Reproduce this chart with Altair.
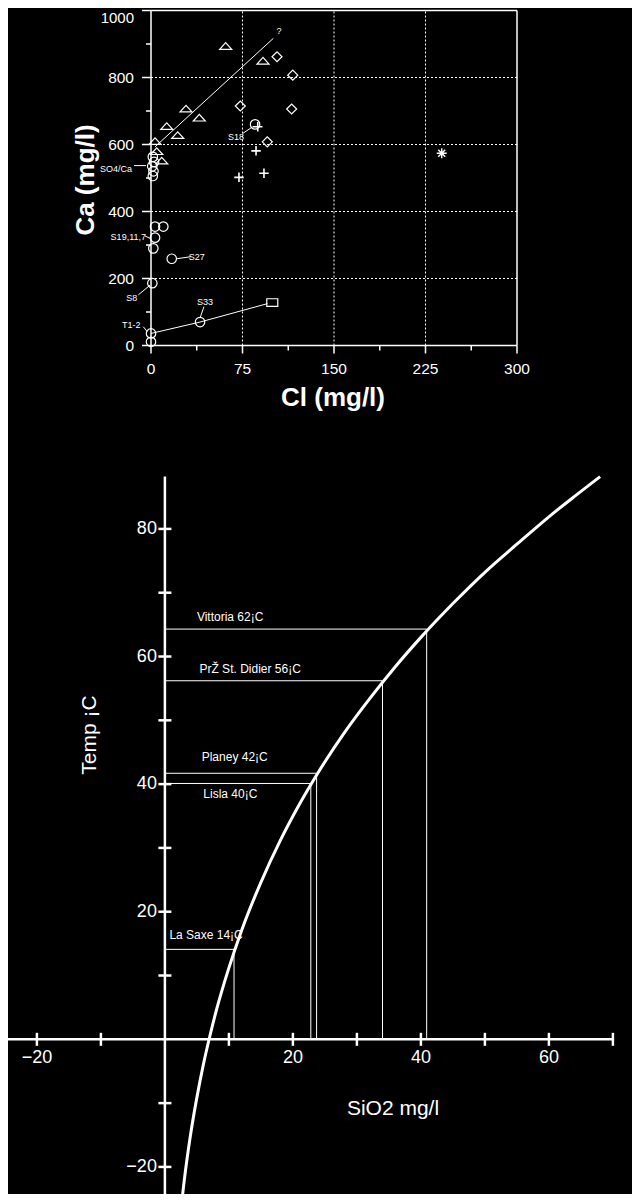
import altair as alt
import pandas as pd

# ---------------- top chart: Ca vs Cl ----------------
tri_cl = [61.2, 91.8, 28.7, 39.6, 12.9, 21.9, 3.3, 4.7, 8.8]
tri_ca = [894, 850, 707, 680, 655, 628, 610, 580, 552]
dia_cl = [103.3, 116.2, 115.3, 73.2, 95.3]
dia_ca = [862, 807, 706, 715, 608]
plus_cl = [87.5, 86.1, 72.1, 92.6]
plus_ca = [653, 581, 502, 514]
star_cl = [238.3]
star_ca = [574]
sq_cl = [99.4]
sq_ca = [128]
circ_cl = [85.3, 3.3, 10.1, 3.3, 1.9, 17.0, 1.1, 40.2, 0.0, 0.0, 1.5, 2.5, 1.0, 2.0, 1.5]
circ_ca = [660, 355, 355, 322, 290, 259, 186, 70, 36, 11, 563, 548, 535, 520, 506]

trend1_cl = [3.3, 100.3]
trend1_ca = [593, 917]
trend2_cl = [0.0, 40.2, 95.5]
trend2_ca = [36, 70, 125]

lab_text = ["?", "S18", "SO4/Ca", "S19,11,7", "S27", "S8", "S33", "T1-2"]
lab_cl = [104.9, 69.7, -28.7, -18.6, 37.5, -15.8, 44.3, -16.1]
lab_ca = [940, 621, 526, 323, 263, 143, 129, 61]
lead_cl1 = [75.2, -13.9, -4.9, 21.1, -10.4, 43.4, -6.3]
lead_ca1 = [633, 537, 327, 259, 151, 116, 56]
lead_cl2 = [83.4, -4.1, -0.8, 32.5, -0.8, 40.2, -3.0]
lead_ca2 = [653, 537, 320, 265, 180, 82, 41]

ca_major = [0, 200, 400, 600, 800]
ca_top = [1000]
ca_minor = [100, 300, 500, 700, 900]
cl_major = [0, 75, 150, 225, 300]
cl_minor = [37.5, 112.5, 187.5, 262.5]
ca_grid = [200, 400, 600, 800]
cl_grid = [75, 150, 225]

# ---------------- bottom chart: Temp vs SiO2 ----------------
sio2_curve = [2.6, 3, 4, 5, 6, 7, 8, 10, 12, 15, 18, 21, 24, 28, 32, 36, 40, 45, 50, 55, 60, 64, 68]
temp_curve = [-25.8, -22.3, -15.0, -9.1, -4.0, 0.4, 4.4, 11.2, 17.1, 24.6, 31.1, 36.8, 41.9,
              48.0, 53.4, 58.4, 63.0, 68.3, 73.2, 77.6, 81.9, 85.1, 88.2]

site_names = ["Vittoria 62¡C", "PrŽ St. Didier 56¡C", "Planey 42¡C", "Lisla 40¡C", "La Saxe 14¡C"]
site_sio2 = [40.9, 34.0, 23.7, 22.8, 10.8]
site_temp = [64.3, 56.2, 41.7, 40.1, 14.1]
site_lab_sio2 = [5.0, 5.4, 5.75, 6.0, 0.7]
site_lab_temp = [66.2, 58.1, 44.3, 38.4, 16.3]

x_ticks = [-20, -10, 10, 20, 30, 40, 50, 60, 70]
x_labels = [-20, 20, 40, 60]
y_ticks = [-20, -10, 10, 20, 30, 40, 50, 60, 70, 80]
y_labels = [-20, 20, 40, 60, 80]

# ---------------- scales ----------------
W, H = 624, 1186
FONT = "Liberation Sans"


def sx1():
    return alt.Scale(domain=[0, 300], range=[143, 509], nice=False, zero=False)


def sy1():
    return alt.Scale(domain=[0, 1000], range=[337.5, 2.5], nice=False, zero=False)


def sx2():
    return alt.Scale(domain=[-25, 70], range=[-3.1, 604.9], nice=False, zero=False)


def sy2():
    return alt.Scale(domain=[-26, 88.2], range=[1197.2, 468.6], nice=False, zero=False)


def X(f, s):
    return alt.X(f, type="quantitative", scale=s(), axis=None)


def Y(f, s):
    return alt.Y(f, type="quantitative", scale=s(), axis=None)


layers = []

# ---- top chart ----
# grid
layers.append(alt.Chart(pd.DataFrame({"v": ca_grid})).mark_rule(
    color="white", strokeWidth=1, strokeDash=[2, 2]).encode(
    x=X("a", sx1), x2="b", y=Y("v", sy1)).transform_calculate(a="0", b="300"))
layers.append(alt.Chart(pd.DataFrame({"v": cl_grid})).mark_rule(
    color="white", strokeWidth=1, strokeDash=[2, 2]).encode(
    x=X("v", sx1), y=Y("a", sy1), y2="b").transform_calculate(a="0", b="1000"))
# frame
frame = pd.DataFrame({"x1": [0, 0, 0, 300], "y1": [0, 0, 1000, 0],
                      "x2": [0, 300, 300, 300], "y2": [1000, 0, 1000, 1000]})
layers.append(alt.Chart(frame).mark_rule(color="white", strokeWidth=1.5).encode(
    x=X("x1", sx1), y=Y("y1", sy1), x2="x2", y2="y2"))
# ticks
layers.append(alt.Chart(pd.DataFrame({"v": ca_major + ca_top})).mark_tick(
    orient="horizontal", size=9, thickness=1.5, xOffset=-4.5, color="white", opacity=1).encode(
    x=X("a", sx1), y=Y("v", sy1)).transform_calculate(a="0"))
layers.append(alt.Chart(pd.DataFrame({"v": ca_minor})).mark_tick(
    orient="horizontal", size=5, thickness=1.5, xOffset=-2.5, color="white", opacity=1).encode(
    x=X("a", sx1), y=Y("v", sy1)).transform_calculate(a="0"))
layers.append(alt.Chart(pd.DataFrame({"v": cl_major})).mark_tick(
    orient="vertical", size=8, thickness=1.5, yOffset=4, color="white", opacity=1).encode(
    x=X("v", sx1), y=Y("a", sy1)).transform_calculate(a="0"))
layers.append(alt.Chart(pd.DataFrame({"v": cl_minor})).mark_tick(
    orient="vertical", size=5, thickness=1.5, yOffset=2.5, color="white", opacity=1).encode(
    x=X("v", sx1), y=Y("a", sy1)).transform_calculate(a="0"))
# tick labels
layers.append(alt.Chart(pd.DataFrame({"v": ca_major})).mark_text(
    align="right", baseline="middle", dx=-17, font=FONT, fontSize=15.5, color="white").encode(
    x=X("a", sx1), y=Y("v", sy1), text=alt.Text("v:Q", format="d")).transform_calculate(a="0"))
layers.append(alt.Chart(pd.DataFrame({"v": ca_top})).mark_text(
    align="right", baseline="middle", dx=-17, dy=7, font=FONT, fontSize=15, color="white").encode(
    x=X("a", sx1), y=Y("v", sy1), text=alt.Text("v:Q", format="d")).transform_calculate(a="0"))
layers.append(alt.Chart(pd.DataFrame({"v": cl_major})).mark_text(
    align="center", baseline="middle", dy=23.5, font=FONT, fontSize=15.5, color="white").encode(
    x=X("v", sx1), y=Y("a", sy1), text=alt.Text("v:Q", format="d")).transform_calculate(a="0"))
# titles
layers.append(alt.Chart(pd.DataFrame({"t": ["Ca (mg/l)"]})).mark_text(
    angle=270, align="center", baseline="middle", font=FONT, fontSize=26, fontWeight="bold",
    color="white").encode(x=alt.value(78), y=alt.value(172), text="t:N"))
layers.append(alt.Chart(pd.DataFrame({"t": ["Cl (mg/l)"]})).mark_text(
    align="center", baseline="middle", font=FONT, fontSize=26, fontWeight="bold",
    color="white").encode(x=alt.value(325), y=alt.value(390), text="t:N"))
# trend lines
layers.append(alt.Chart(pd.DataFrame({"cl": trend1_cl, "ca": trend1_ca})).mark_line(
    color="white", strokeWidth=1).encode(x=X("cl", sx1), y=Y("ca", sy1)))
layers.append(alt.Chart(pd.DataFrame({"cl": trend2_cl, "ca": trend2_ca})).mark_line(
    color="white", strokeWidth=1).encode(x=X("cl", sx1), y=Y("ca", sy1)))
# leaders
layers.append(alt.Chart(pd.DataFrame({"a": lead_cl1, "b": lead_ca1, "c": lead_cl2, "d": lead_ca2})).mark_rule(
    color="white", strokeWidth=1).encode(x=X("a", sx1), y=Y("b", sy1), x2="c", y2="d"))
# labels
layers.append(alt.Chart(pd.DataFrame({"cl": lab_cl, "ca": lab_ca, "t": lab_text})).mark_text(
    align="center", baseline="middle", font=FONT, fontSize=9, color="white").encode(
    x=X("cl", sx1), y=Y("ca", sy1), text="t:N"))


def pts(cl, ca, shape, size, sw=1.2):
    return alt.Chart(pd.DataFrame({"cl": cl, "ca": ca})).mark_point(
        shape=shape, size=size, filled=False, color="white", strokeWidth=sw, opacity=1).encode(
        x=X("cl", sx1), y=Y("ca", sy1))


layers.append(pts(tri_cl, tri_ca, "M-1,0.55L0,-0.55L1,0.55Z", 144))
layers.append(pts(dia_cl, dia_ca, "diamond", 100))
layers.append(pts(plus_cl, plus_ca, "M-1,0H1M0,-1V1", 90, 1.6))
layers.append(pts(star_cl, star_ca, "M-1,0H1M0,-1V1M-0.7,-0.7L0.7,0.7M-0.7,0.7L0.7,-0.7", 100, 1.4))
layers.append(pts(sq_cl, sq_ca, "M-1,-0.7H1V0.7H-1Z", 121))
layers.append(pts(circ_cl, circ_ca, "circle", 90))

# ---- bottom chart ----
layers.append(alt.Chart(pd.DataFrame({"a": [-25.0], "b": [70.0], "c": [0.0]})).mark_rule(
    color="white", strokeWidth=2.5).encode(x=X("a", sx2), x2="b", y=Y("c", sy2)))
layers.append(alt.Chart(pd.DataFrame({"a": [-26.0], "b": [88.2], "c": [0.0]})).mark_rule(
    color="white", strokeWidth=2.5).encode(y=Y("a", sy2), y2="b", x=X("c", sx2)))
layers.append(alt.Chart(pd.DataFrame({"v": x_ticks})).mark_tick(
    orient="vertical", size=13, thickness=2.5, color="white", opacity=1).encode(
    x=X("v", sx2), y=Y("a", sy2)).transform_calculate(a="0"))
layers.append(alt.Chart(pd.DataFrame({"v": y_ticks})).mark_tick(
    orient="horizontal", size=13, thickness=2.5, color="white", opacity=1).encode(
    x=X("a", sx2), y=Y("v", sy2)).transform_calculate(a="0"))
layers.append(alt.Chart(pd.DataFrame({"v": x_labels})).mark_text(
    align="center", baseline="middle", dy=19, font=FONT, fontSize=18, color="white").encode(
    x=X("v", sx2), y=Y("a", sy2), text=alt.Text("v:Q", format="d")).transform_calculate(a="0"))
layers.append(alt.Chart(pd.DataFrame({"v": y_labels})).mark_text(
    align="right", baseline="middle", dx=-8, font=FONT, fontSize=18, color="white").encode(
    x=X("a", sx2), y=Y("v", sy2), text=alt.Text("v:Q", format="d")).transform_calculate(a="0"))
layers.append(alt.Chart(pd.DataFrame({"t": ["Temp ¡C"]})).mark_text(
    angle=270, align="center", baseline="middle", font=FONT, fontSize=21,
    color="white").encode(x=alt.value(82), y=alt.value(727), text="t:N"))
layers.append(alt.Chart(pd.DataFrame({"t": ["SiO2 mg/l"]})).mark_text(
    align="center", baseline="middle", font=FONT, fontSize=21,
    color="white").encode(x=alt.value(385), y=alt.value(1101), text="t:N"))

sites = pd.DataFrame({"s": site_sio2, "t": site_temp, "n": site_names,
                      "ls": site_lab_sio2, "lt": site_lab_temp})
layers.append(alt.Chart(sites).mark_rule(color="white", strokeWidth=1).encode(
    x=X("z", sx2), x2="s", y=Y("t", sy2)).transform_calculate(z="0"))
layers.append(alt.Chart(sites).mark_rule(color="white", strokeWidth=1).encode(
    x=X("s", sx2), y=Y("z", sy2), y2="t").transform_calculate(z="0"))
layers.append(alt.Chart(sites).mark_text(
    align="left", baseline="middle", font=FONT, fontSize=12, color="white").encode(
    x=X("ls", sx2), y=Y("lt", sy2), text="n:N"))
layers.append(alt.Chart(pd.DataFrame({"s": sio2_curve, "t": temp_curve})).mark_line(
    color="white", strokeWidth=3, interpolate="monotone").encode(
    x=X("s", sx2), y=Y("t", sy2)))

chart = alt.layer(*layers).resolve_scale(x="independent", y="independent").properties(
    width=W, height=H, autosize=alt.AutoSizeParams(type="none"), padding=0,
    background="black").configure_view(stroke=None)

chart.save("out.html", embed_options={"renderer": "svg", "actions": False})
